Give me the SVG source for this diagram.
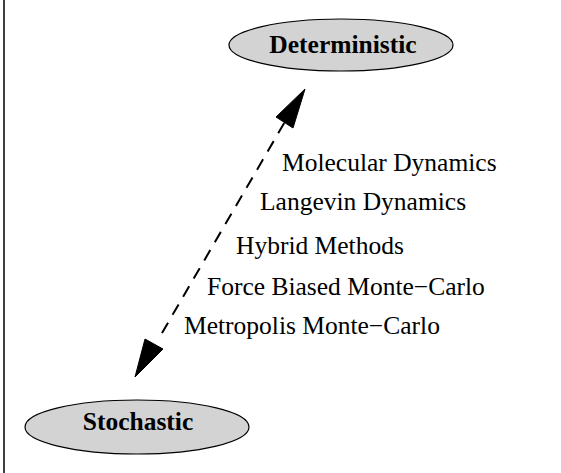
<svg xmlns="http://www.w3.org/2000/svg" width="561" height="473" viewBox="0 0 561 473">
<style>
.node ellipse{fill:#d3d3d3;stroke:#000;stroke-width:1.2}
.node text{font-family:"Liberation Serif","Times New Roman",serif;font-weight:bold;font-size:25.5px;text-anchor:middle;fill:#000}
.lbl{font-family:"Liberation Serif","Times New Roman",serif;font-size:25.5px;fill:#000}
.edge{stroke:#000;stroke-width:2;stroke-dasharray:12 9;fill:none}
.head{fill:#000;stroke:#000;stroke-width:1}
</style>
<rect x="0" y="0" width="561" height="473" fill="#fff"/>
<line x1="4" y1="0" x2="4" y2="473" stroke="#000" stroke-width="1.5"/>
<g id="connectors">
<line class="edge" x1="162" y1="333" x2="284.5" y2="122.5"/>
<polygon class="head" points="305,89 276,117 293,128"/>
<polygon class="head" points="135,377 145,339 163,349"/>
</g>
<g id="deterministic" class="node">
<ellipse cx="341" cy="45" rx="112" ry="26"/>
<text x="343" y="53">Deterministic</text>
</g>
<g id="stochastic" class="node">
<ellipse cx="137" cy="427" rx="112" ry="27"/>
<text x="138" y="430">Stochastic</text>
</g>
<g id="labels">
<text class="lbl" x="282" y="171">Molecular Dynamics</text>
<text class="lbl" x="260" y="210">Langevin Dynamics</text>
<text class="lbl" x="236" y="254">Hybrid Methods</text>
<text class="lbl" x="207" y="295">Force Biased Monte−Carlo</text>
<text class="lbl" x="184" y="334">Metropolis Monte−Carlo</text>
</g>
</svg>
